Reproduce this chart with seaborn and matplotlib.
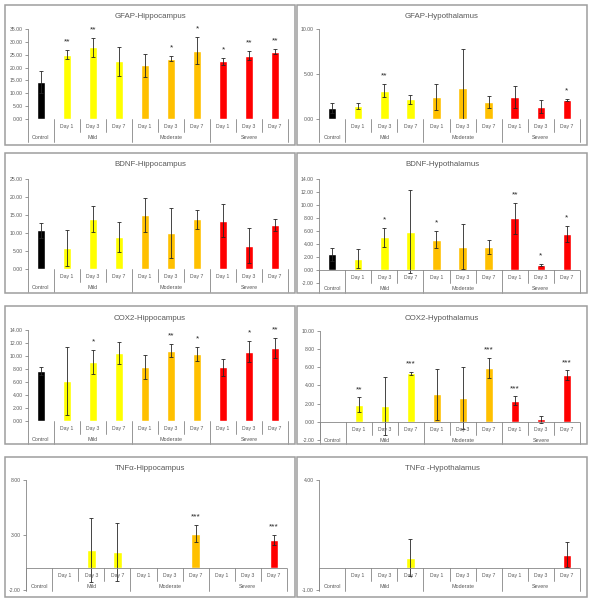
import matplotlib
matplotlib.use("Agg")
import matplotlib.pyplot as plt
from matplotlib.patches import Rectangle
import numpy as np
import pandas as pd
import seaborn as sns

# categories
groups = ["Control", "Mild", "Mild", "Mild", "Moderate", "Moderate", "Moderate", "Severe", "Severe", "Severe"]
days = ["", "Day 1", "Day 3", "Day 7", "Day 1", "Day 3", "Day 7", "Day 1", "Day 3", "Day 7"]
group_names = ["Control", "Mild", "Moderate", "Severe"]
colors = {"Control": "#000000", "Mild": "#FFFF00", "Moderate": "#FFC000", "Severe": "#FF0000"}

# values
gfap_hip = [14.5, 25.0, 27.9, 22.4, 20.9, 23.5, 26.6, 22.4, 24.6, 26.2]
gfap_hip_err = [4.3, 1.8, 3.6, 5.6, 4.4, 0.9, 5.3, 1.3, 1.8, 0.9]
gfap_hip_sig = ["", "**", "**", "", "", "*", "*", "*", "**", "**"]

gfap_hyp = [1.23, 1.45, 3.16, 2.19, 2.45, 3.50, 1.86, 2.45, 1.38, 2.12]
gfap_hyp_err = [0.55, 0.35, 0.70, 0.50, 1.45, 4.27, 0.67, 1.27, 0.70, 0.15]
gfap_hyp_sig = ["", "", "**", "", "", "", "", "", "", "*"]

bdnf_hip = [10.9, 5.8, 14.0, 8.9, 15.1, 10.0, 13.9, 13.5, 6.6, 12.3]
bdnf_hip_err = [2.1, 5.0, 3.6, 4.2, 4.8, 6.9, 2.6, 4.6, 4.9, 1.6]
bdnf_hip_sig = [""] * 10

bdnf_hyp = [2.50, 1.79, 5.06, 5.93, 4.70, 3.63, 3.63, 8.02, 0.87, 5.62]
bdnf_hyp_err = [1.0, 1.5, 1.4, 6.4, 1.3, 3.5, 1.1, 2.4, 0.15, 1.2]
bdnf_hyp_sig = ["", "", "*", "", "*", "", "", "**", "*", "*"]

cox2_hip = [7.69, 6.15, 9.13, 10.41, 8.30, 10.82, 10.36, 8.30, 10.67, 11.23]
cox2_hip_err = [0.6, 5.3, 1.85, 1.7, 1.85, 1.0, 1.1, 1.3, 1.6, 1.5]
cox2_hip_sig = ["", "", "*", "", "", "**", "*", "", "*", "**"]

cox2_hyp = [0, 1.87, 1.72, 5.31, 3.00, 2.60, 5.86, 2.31, 0.26, 5.09]
cox2_hyp_err = [0, 0.8, 3.15, 0.18, 2.8, 3.4, 1.1, 0.47, 0.4, 0.55]
cox2_hyp_sig = ["", "**", "", "***", "", "", "***", "***", "", "***"]

tnf_hip = [0, 0, 1.64, 1.45, 0, 0, 3.12, 0, 0, 2.52]
tnf_hip_err = [0, 0, 2.9, 2.6, 0, 0, 0.76, 0, 0, 0.45]
tnf_hip_sig = ["", "", "", "", "", "", "***", "", "", "***"]

tnf_hyp = [0, 0, 0, 0.47, 0, 0, 0, 0, 0, 0.61]
tnf_hyp_err = [0, 0, 0, 0.83, 0, 0, 0, 0, 0, 0.56]
tnf_hyp_sig = [""] * 10

W, H = 597, 605
GRAY = "#868686"
TXT = "#595959"

sns.set_style("white")
plt.rcParams["font.family"] = ["Liberation Sans", "DejaVu Sans"]

cats = [g if d == "" else g + " " + d for g, d in zip(groups, days)]


# Function for drawing one Excel-like panel
def render_panel(fig, frame, axbox, title, vals, errs, sig, ylim, step):
    fig.add_artist(Rectangle((frame[0] / W, 1 - frame[3] / H), (frame[2] - frame[0]) / W,
                             (frame[3] - frame[1]) / H, transform=fig.transFigure,
                             fill=False, ec="#9E9E9E", lw=1.1))
    fig.text((frame[0] + frame[2]) / 2 / W, 1 - (frame[1] + 12) / H, title,
             ha="center", va="center", fontsize=5.7, color=TXT)

    ax = fig.add_axes([axbox[0] / W, 1 - axbox[3] / H,
                       (axbox[2] - axbox[0]) / W, (axbox[3] - axbox[1]) / H])
    df = pd.DataFrame({"cat": cats, "group": groups, "val": vals})
    sns.barplot(data=df, x="cat", y="val", hue="group", palette=colors, order=cats,
                hue_order=group_names, dodge=False, width=0.33, saturation=1,
                errorbar=None, legend=False, ax=ax)

    x = np.arange(len(cats))
    v = np.array(vals, dtype=float)
    e = np.array(errs, dtype=float)
    m = e > 0
    ax.errorbar(x[m], v[m], yerr=e[m], fmt="none", ecolor="#262626",
                elinewidth=0.6, capsize=1.3, capthick=0.6)

    ax.set_xlim(-0.5, len(cats) - 0.5)
    ax.set_ylim(*ylim)
    ax.set_yticks(np.arange(ylim[0], ylim[1] + step / 2, step))
    ax.yaxis.set_major_formatter(matplotlib.ticker.FormatStrFormatter("%.2f"))
    ax.tick_params(axis="y", length=2, width=0.6, color=GRAY, labelsize=3.7,
                   labelcolor=TXT, pad=2, left=True)
    ax.set_xticks([])
    ax.set_xlabel("")
    ax.set_ylabel("")
    for s in ["top", "right", "bottom"]:
        ax.spines[s].set_visible(False)
    ax.spines["left"].set_color(GRAY)
    ax.spines["left"].set_linewidth(0.6)
    ax.patch.set_alpha(0)
    ax.axhline(0, color=GRAY, lw=0.6)

    # pixel -> data units on y
    dpp = (ylim[1] - ylim[0]) / (axbox[3] - axbox[1])

    for i, s in enumerate(sig):
        if s:
            ax.text(x[i], v[i] + e[i] + 8 * dpp, s, ha="center", va="center",
                    fontsize=6, color="#262626")

    # multi-level category axis
    long_b = [-0.5, 0.5, 3.5, 6.5, 9.5]
    short_b = [1.5, 2.5, 4.5, 5.5, 7.5, 8.5]
    for b in long_b:
        ax.plot([b, b], [0, -22.5 * dpp], color=GRAY, lw=0.6, clip_on=False)
    for b in short_b:
        ax.plot([b, b], [0, -13 * dpp], color=GRAY, lw=0.6, clip_on=False)
    for i, d in enumerate(days):
        if d:
            ax.text(x[i], -7.5 * dpp, d, ha="center", va="center", fontsize=3.7, color=TXT)
    gx = {"Control": 0, "Mild": 2, "Moderate": 5, "Severe": 8}
    for g in group_names:
        ax.text(gx[g], -18.5 * dpp, g, ha="center", va="center", fontsize=3.9, color=TXT)
    return ax


fig = plt.figure(figsize=(W / 100, H / 100), dpi=100)

panels = [
    ((5, 5, 295, 145), (28, 29, 288, 119), "GFAP-Hippocampus",
     gfap_hip, gfap_hip_err, gfap_hip_sig, (0, 35), 5),
    ((297, 5, 587, 145), (319, 29.3, 580, 119), "GFAP-Hypothalamus",
     gfap_hyp, gfap_hyp_err, gfap_hyp_sig, (0, 10), 5),
    ((5, 153, 295, 293), (28, 179.3, 288, 269.3), "BDNF-Hippocampus",
     bdnf_hip, bdnf_hip_err, bdnf_hip_sig, (0, 25), 5),
    ((297, 153, 587, 293), (319, 179.3, 580, 283.3), "BDNF-Hypothalamus",
     bdnf_hyp, bdnf_hyp_err, bdnf_hyp_sig, (-2, 14), 2),
    ((5, 306, 295, 444), (28, 330, 288, 421), "COX2-Hippocampus",
     cox2_hip, cox2_hip_err, cox2_hip_sig, (0, 14), 2),
    ((297, 306, 587, 444), (320, 330.7, 580, 440), "COX2-Hypothalamus",
     cox2_hyp, cox2_hyp_err, cox2_hyp_sig, (-2, 10), 2),
    ((5, 457, 295, 597), (26, 480, 287, 590), "TNFα-Hippocampus",
     tnf_hip, tnf_hip_err, tnf_hip_sig, (-2, 8), 5),
    ((297, 457, 587, 597), (319, 480, 580, 590), "TNFα -Hypothalamus",
     tnf_hyp, tnf_hyp_err, tnf_hyp_sig, (-1, 4), 5),
]

for p in panels:
    render_panel(fig, *p)

fig.savefig("out.png", dpi=100, facecolor="white")
